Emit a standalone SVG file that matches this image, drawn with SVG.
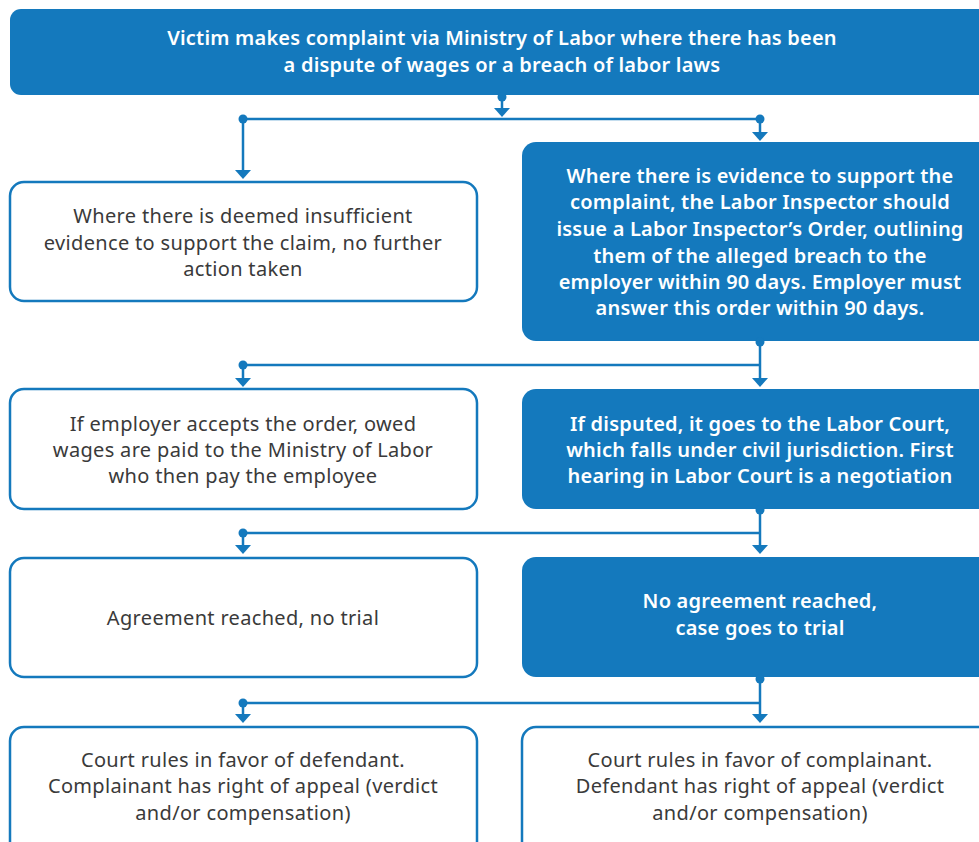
<svg xmlns="http://www.w3.org/2000/svg" width="979" height="842" viewBox="0 0 979 842">
<defs>
<style>
.blue{fill:#1479bd;}
.white{fill:#ffffff;stroke:#1479bd;stroke-width:2.5;}
.tw{font-family:"Noto Sans","Liberation Sans",sans-serif;font-size:20px;letter-spacing:0.2px;fill:#ffffff;font-weight:600;text-anchor:middle;}
.td{font-family:"Noto Sans","Liberation Sans",sans-serif;font-size:20px;letter-spacing:0.33px;fill:#3a3a3a;text-anchor:middle;}
.con line{stroke:#1479bd;stroke-width:2.5;fill:none;}
</style>
<marker id="arr" viewBox="0 0 9 16" refX="0" refY="8" markerWidth="9" markerHeight="16" markerUnits="userSpaceOnUse" orient="auto">
<path d="M0,0 L9,8 L0,16 z" fill="#1479bd"/>
</marker>
<marker id="dot" viewBox="0 0 10 10" refX="5" refY="5" markerWidth="10" markerHeight="10" markerUnits="userSpaceOnUse">
<circle cx="5" cy="5" r="4.5" fill="#1479bd"/>
</marker>
</defs>
<rect width="979" height="842" fill="#ffffff"/>

<g id="n_top">
<rect class="blue" x="10" y="9" width="990" height="86" rx="11"/>
<text class="tw" x="502" y="45">Victim makes complaint via Ministry of Labor where there has been</text>
<text class="tw" x="502" y="72">a dispute of wages or a breach of labor laws</text>
</g>

<g id="n_insufficient">
<rect class="white" x="10" y="182" width="467" height="119" rx="14"/>
<text class="td" x="243" y="223">Where there is deemed insufficient</text>
<text class="td" x="243" y="250">evidence to support the claim, no further</text>
<text class="td" x="243" y="276">action taken</text>
</g>

<g id="n_evidence">
<rect class="blue" x="522" y="142" width="480" height="199" rx="14"/>
<text class="tw" x="760" y="183">Where there is evidence to support the</text>
<text class="tw" x="760" y="209">complaint, the Labor Inspector should</text>
<text class="tw" x="760" y="236">issue a Labor Inspector’s Order, outlining</text>
<text class="tw" x="760" y="263">them of the alleged breach to the</text>
<text class="tw" x="760" y="289">employer within 90 days. Employer must</text>
<text class="tw" x="760" y="315">answer this order within 90 days.</text>
</g>

<g id="n_accepts">
<rect class="white" x="10" y="389" width="467" height="120" rx="14"/>
<text class="td" x="243" y="431">If employer accepts the order, owed</text>
<text class="td" x="243" y="457">wages are paid to the Ministry of Labor</text>
<text class="td" x="243" y="483">who then pay the employee</text>
</g>

<g id="n_disputed">
<rect class="blue" x="522" y="389" width="480" height="120" rx="14"/>
<text class="tw" x="760" y="431">If disputed, it goes to the Labor Court,</text>
<text class="tw" x="760" y="457">which falls under civil jurisdiction. First</text>
<text class="tw" x="760" y="483">hearing in Labor Court is a negotiation</text>
</g>

<g id="n_agreement">
<rect class="white" x="10" y="558" width="467" height="119" rx="14"/>
<text class="td" x="243" y="625">Agreement reached, no trial</text>
</g>

<g id="n_noagreement">
<rect class="blue" x="522" y="557" width="480" height="120" rx="14"/>
<text class="tw" x="760" y="608">No agreement reached,</text>
<text class="tw" x="760" y="635">case goes to trial</text>
</g>

<g id="n_defendant">
<rect class="white" x="10" y="727" width="467" height="140" rx="14"/>
<text class="td" x="243" y="767">Court rules in favor of defendant.</text>
<text class="td" x="243" y="793">Complainant has right of appeal (verdict</text>
<text class="td" x="243" y="820">and/or compensation)</text>
</g>

<g id="n_complainant">
<rect class="white" x="522" y="727" width="480" height="140" rx="14"/>
<text class="td" x="760" y="767">Court rules in favor of complainant.</text>
<text class="td" x="760" y="793">Defendant has right of appeal (verdict</text>
<text class="td" x="760" y="820">and/or compensation)</text>
</g>

<g id="connectors" class="con">
<line x1="502" y1="97" x2="502" y2="108" marker-start="url(#dot)" marker-end="url(#arr)"/>
<line x1="243" y1="119" x2="760" y2="119" marker-start="url(#dot)" marker-end="url(#dot)"/>
<line x1="243" y1="119" x2="243" y2="170" marker-end="url(#arr)"/>
<line x1="760" y1="119" x2="760" y2="132" marker-end="url(#arr)"/>

<line x1="760" y1="342" x2="760" y2="378" marker-start="url(#dot)" marker-end="url(#arr)"/>
<line x1="243" y1="365" x2="760" y2="365" marker-start="url(#dot)"/>
<line x1="243" y1="365" x2="243" y2="378" marker-end="url(#arr)"/>

<line x1="760" y1="510" x2="760" y2="545" marker-start="url(#dot)" marker-end="url(#arr)"/>
<line x1="243" y1="533" x2="760" y2="533" marker-start="url(#dot)"/>
<line x1="243" y1="533" x2="243" y2="545" marker-end="url(#arr)"/>

<line x1="760" y1="679" x2="760" y2="714" marker-start="url(#dot)" marker-end="url(#arr)"/>
<line x1="243" y1="703" x2="760" y2="703" marker-start="url(#dot)"/>
<line x1="243" y1="703" x2="243" y2="714" marker-end="url(#arr)"/>
</g>
</svg>
